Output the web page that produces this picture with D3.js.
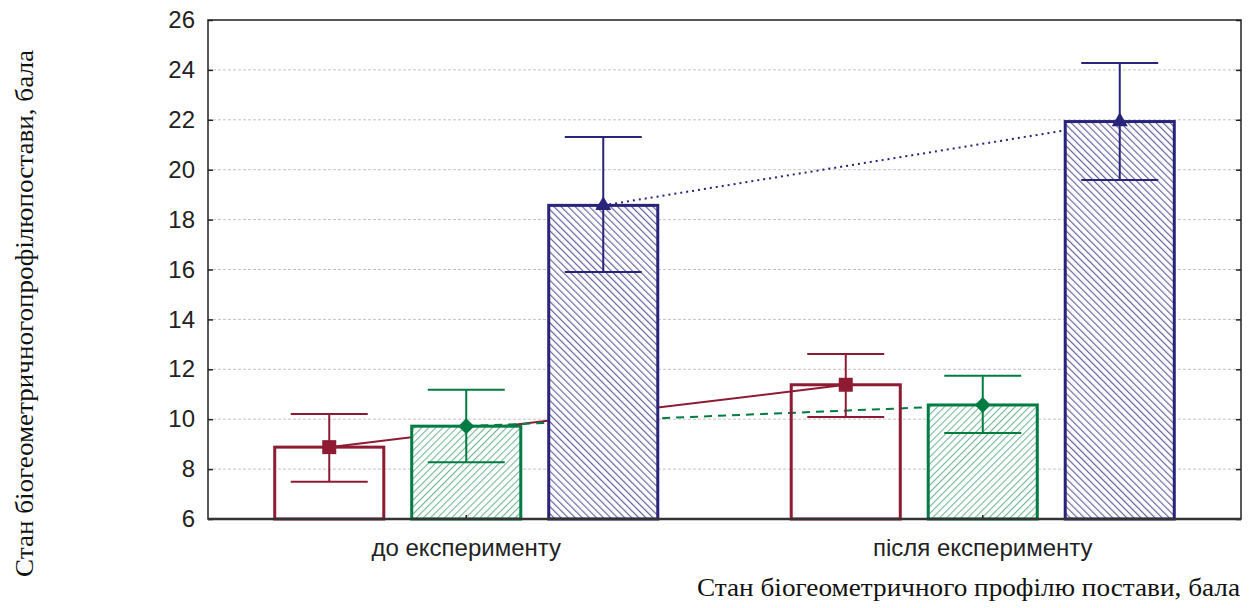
<!DOCTYPE html>
<html><head><meta charset="utf-8">
<script src="https://cdn.jsdelivr.net/npm/d3@7"></script>
<style>
body{margin:0;background:#fff;}
svg{display:block;}
</style></head>
<body>
<svg id="chart" width="1252" height="608"></svg>
<script>
// ---- data ----
const categories = ["до експерименту", "після експерименту"];
const seriesNames = ["Група 1", "Група 2", "Група 3"];
const meanRed   = [8.88, 11.38];
const meanGreen = [9.72, 10.57];
const meanBlue  = [18.57, 21.93];
const upperRed   = [10.21, 12.61];
const lowerRed   = [7.49, 10.09];
const upperGreen = [11.18, 11.74];
const lowerGreen = [8.27, 9.45];
const upperBlue  = [21.31, 24.28];
const lowerBlue  = [15.90, 19.59];
const yTicks = [6, 8, 10, 12, 14, 16, 18, 20, 22, 24, 26];
const yTitle = "Стан біогеометричногопрофілюпостави, бала";
const xTitle = "Стан біогеометричного профілю постави, бала";

const colors = ["#8e1b33", "#007c43", "#27247a"];
const series = [
  {name: seriesNames[0], mean: meanRed,   hi: upperRed,   lo: lowerRed,   color: colors[0], fill: "none",          marker: "square",  dash: null},
  {name: seriesNames[1], mean: meanGreen, hi: upperGreen, lo: lowerGreen, color: colors[1], fill: "url(#hatchG)",  marker: "diamond", dash: "8,6"},
  {name: seriesNames[2], mean: meanBlue,  hi: upperBlue,  lo: lowerBlue,  color: colors[2], fill: "url(#hatchB)",  marker: "triangle",dash: "2,4"}
];

const L = 208, R = 1241, T = 20, B = 519;
const svg = d3.select("#chart");

// patterns
const defs = svg.append("defs");
const pg = defs.append("pattern").attr("id","hatchG").attr("patternUnits","userSpaceOnUse")
  .attr("width",5).attr("height",5).attr("patternTransform","rotate(45)");
pg.append("rect").attr("width",5).attr("height",5).attr("fill","#fff");
pg.append("line").attr("x1",0).attr("y1",0).attr("x2",0).attr("y2",5)
  .attr("stroke",colors[1]).attr("stroke-width",2.2).attr("stroke-opacity",0.55);
const pb = defs.append("pattern").attr("id","hatchB").attr("patternUnits","userSpaceOnUse")
  .attr("width",5).attr("height",5).attr("patternTransform","rotate(-45)");
pb.append("rect").attr("width",5).attr("height",5).attr("fill","#fff");
pb.append("line").attr("x1",0).attr("y1",0).attr("x2",0).attr("y2",5)
  .attr("stroke",colors[2]).attr("stroke-width",2.4).attr("stroke-opacity",0.7);

// scales
const y = d3.scaleLinear().domain([6, 26]).range([B, T]);
const x0 = d3.scaleBand().domain(categories).range([L, R]).padding(0);
const x1 = d3.scaleBand().domain(seriesNames).range([0, x0.bandwidth()])
  .paddingInner(0.204).paddingOuter(0.487);
const bw = x1.bandwidth();
const cx = (si, ci) => x0(categories[ci]) + x1(seriesNames[si]) + bw / 2;

// grid
svg.append("g").selectAll("line").data(yTicks.filter(t => t > 6 && t < 26)).join("line")
  .attr("x1", L).attr("x2", R).attr("y1", d => y(d)).attr("y2", d => y(d))
  .attr("stroke", "#c4c4c4").attr("stroke-width", 1).attr("stroke-dasharray", "3,2");

// connecting lines
series.forEach((s, si) => {
  const line = d3.line().x((d, ci) => cx(si, ci)).y(d => y(d));
  svg.append("path").datum(s.mean).attr("d", line)
    .attr("fill", "none").attr("stroke", s.color).attr("stroke-width", 2)
    .attr("stroke-dasharray", s.dash);
});

// bars
series.forEach((s, si) => {
  svg.append("g").selectAll("rect").data(s.mean).join("rect")
    .attr("x", (d, ci) => cx(si, ci) - bw / 2)
    .attr("width", bw)
    .attr("y", d => y(d))
    .attr("height", d => B - y(d))
    .attr("fill", s.fill)
    .attr("stroke", s.color).attr("stroke-width", 3);
});

// error bars
const capW = 77;
series.forEach((s, si) => {
  const g = svg.append("g").attr("stroke", s.color).attr("stroke-width", 2).attr("fill", "none");
  s.mean.forEach((m, ci) => {
    const c = cx(si, ci);
    g.append("line").attr("x1", c).attr("x2", c).attr("y1", y(s.hi[ci])).attr("y2", y(s.lo[ci]));
    g.append("line").attr("x1", c - capW/2).attr("x2", c + capW/2).attr("y1", y(s.hi[ci])).attr("y2", y(s.hi[ci]));
    g.append("line").attr("x1", c - capW/2).attr("x2", c + capW/2).attr("y1", y(s.lo[ci])).attr("y2", y(s.lo[ci]));
  });
});

// markers
const symType = {square: d3.symbolSquare, diamond: d3.symbolSquare, triangle: d3.symbolTriangle};
const symSize = {square: 196, diamond: 128, triangle: 110};
const symRot = {square: 0, diamond: 45, triangle: 0};
series.forEach((s, si) => {
  svg.append("g").selectAll("path").data(s.mean).join("path")
    .attr("transform", (d, ci) => `translate(${cx(si, ci)},${y(d)}) rotate(${symRot[s.marker]})`)
    .attr("d", d3.symbol().type(symType[s.marker]).size(symSize[s.marker]))
    .attr("fill", s.color);
});

// axes
const fontSans = "'Liberation Sans', Arial, sans-serif";
const yAxis = svg.append("g").attr("transform", `translate(${L},0)`)
  .call(d3.axisLeft(y).tickValues(yTicks).tickSize(-5).tickPadding(13).tickFormat(d3.format("d")));
yAxis.selectAll("text").attr("font-family", fontSans).attr("font-size", 24).attr("fill", "#222");
yAxis.select(".domain").remove();
const yAxisR = svg.append("g").attr("transform", `translate(${R},0)`)
  .call(d3.axisRight(y).tickValues(yTicks).tickSize(-5).tickFormat(""));
yAxisR.select(".domain").remove();
const xAxis = svg.append("g").attr("transform", `translate(0,${B})`)
  .call(d3.axisBottom(x0).tickSize(-4).tickPadding(20));
xAxis.select(".domain").remove();
xAxis.selectAll("text").attr("font-family", fontSans).attr("font-size", 24).attr("fill", "#222");
svg.selectAll(".tick line").attr("stroke", "#222").attr("stroke-width", 1.5);

// frame
svg.append("rect").attr("x", L).attr("y", T).attr("width", R - L).attr("height", B - T)
  .attr("fill", "none").attr("stroke", "#222").attr("stroke-width", 1.5);
svg.append("line").attr("x1", L).attr("x2", R).attr("y1", B).attr("y2", B)
  .attr("stroke", "#333").attr("stroke-width", 2.5);

// titles
const fontSerif = "'Liberation Serif', 'Times New Roman', serif";
svg.append("text").attr("x", 1240).attr("y", 596).attr("text-anchor", "end")
  .attr("font-family", fontSerif).attr("font-size", 25).attr("fill", "#111")
  .attr("textLength", 543).attr("lengthAdjust", "spacingAndGlyphs").text(xTitle);
svg.append("text").attr("transform", "translate(33,313.5) rotate(-90)").attr("text-anchor", "middle")
  .attr("font-family", fontSerif).attr("font-size", 25).attr("fill", "#111")
  .attr("textLength", 527).attr("lengthAdjust", "spacingAndGlyphs").text(yTitle);
</script>
</body></html>
